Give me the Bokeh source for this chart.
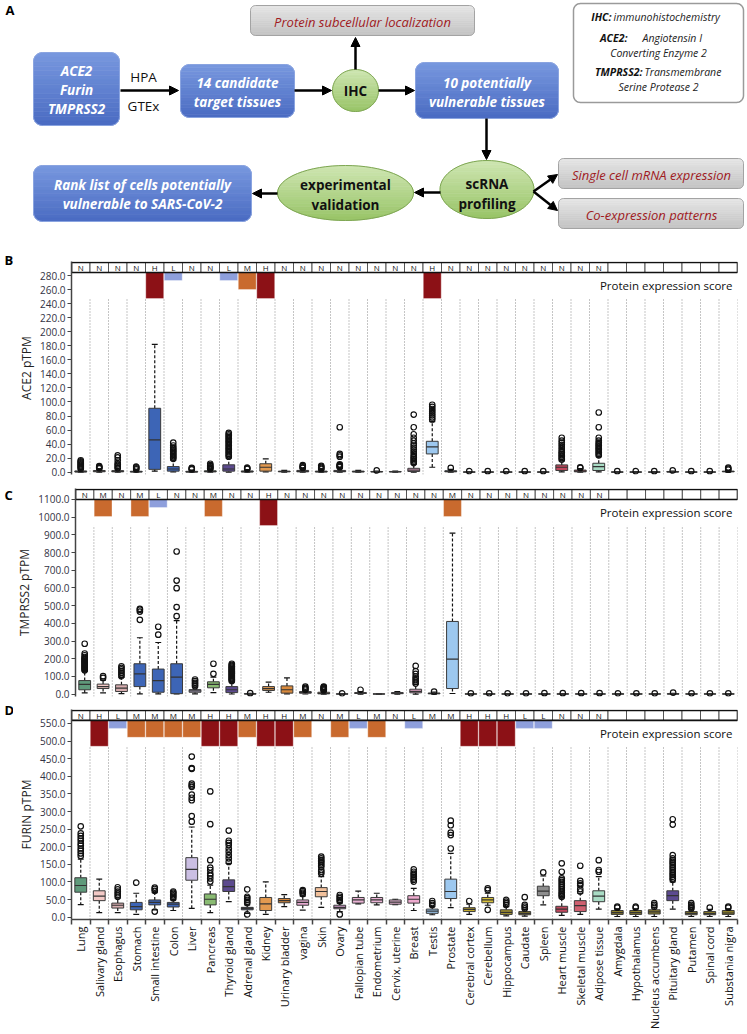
import math
from bokeh.plotting import figure
from bokeh.layouts import column, row
from bokeh.models import Range1d, FixedTicker, NumeralTickFormatter, Label, Arrow, NormalHead
from bokeh.core.properties import value
from bokeh.embed import file_html
from bokeh.resources import INLINE

FONT = "Open Sans"

# ---------------------------------------------------------------- data
tissues = ["Lung", "Salivary gland", "Esophagus", "Stomach", "Small intestine", "Colon", "Liver",
           "Pancreas", "Thyroid gland", "Adrenal gland", "Kidney", "Urinary bladder", "vagina", "Skin",
           "Ovary", "Fallopian tube", "Endometrium", "Cervix, uterine", "Breast", "Testis", "Prostate",
           "Cerebral cortex", "Cerebellum", "Hippocampus", "Caudate", "Spleen", "Heart muscle",
           "Skeletal muscle", "Adipose tissue", "Amygdala", "Hypothalamus", "Nucleus accumbens",
           "Pituitary gland", "Putamen", "Spinal cord", "Substania nigra"]

tissue_colors = ["#5f9a7b", "#f3c9c6", "#d8aeb0", "#3d65b6", "#3d65b6", "#3d65b6", "#cbbfe3",
                 "#89bb72", "#5c4a8e", "#2d3f6e", "#e39a50", "#d98a3d", "#e6aad0", "#f1c09b",
                 "#d8a0d2", "#e9b2d4", "#e9b2d4", "#e7b4d4", "#eeabcf", "#9dc8ef", "#9dc8ef",
                 "#c4ab2c", "#d8c13c", "#a8962c", "#8c7e2a", "#8e8e8e", "#c2485e",
                 "#cf5f6f", "#a9dcc5", "#8c7e2a", "#8c7e2a", "#8c7e2a",
                 "#5c4a90", "#8c7e2a", "#8c7e2a", "#8c7e2a"]

# ACE2 (panel B)
ace2_ticks = [0, 20, 40, 60, 80, 100, 120, 140, 160, 180, 200, 220, 240, 260, 280]
ace2_lo = [0, 0, 0, 0, 1.5, 0.3, 0, 0, 0.2, 0, 0.5, 0, 0, 0, 0, 0, 0, 0, 0, 7, 0,
           0, 0, 0, 0, 0, 0.5, 0, 0.5, 0, 0, 0, 0, 0, 0, 0]
ace2_q1 = [0.3, 0.6, 0.5, 0.2, 4, 1.5, 0.2, 0.4, 1.5, 0.3, 1.5, 0.5, 0.5, 0.3, 0.6, 0.4, 0.3, 0.3, 1, 26, 0.5,
           0.1, 0.1, 0.1, 0.1, 0.1, 2.4, 0.5, 2.4, 0.1, 0.1, 0.1, 0.2, 0.1, 0.1, 0.5]
ace2_med = [0.8, 1.3, 1.2, 0.6, 46, 4.5, 0.5, 1, 4.5, 0.8, 7, 1, 1.2, 0.7, 1.2, 0.8, 0.6, 0.6, 3, 36, 1.2,
            0.2, 0.2, 0.2, 0.2, 0.2, 7, 1.5, 8, 0.2, 0.2, 0.2, 0.5, 0.2, 0.2, 1]
ace2_q3 = [1.8, 2.4, 2.2, 1.3, 91, 8, 1.2, 2, 10.5, 1.8, 12, 1.5, 2.5, 1.5, 2.5, 1.5, 1, 1, 5.5, 44, 2,
           0.4, 0.4, 0.4, 0.4, 0.4, 10.4, 3, 12.7, 0.4, 0.4, 0.4, 1, 0.4, 0.4, 1.5]
ace2_hi = [4, 4.5, 4.5, 3, 182, 17, 3, 4, 20, 3.5, 19, 2.5, 5, 3.5, 6, 2.5, 1.5, 1.5, 11, 72, 4,
           0.8, 0.8, 0.8, 0.8, 0.8, 16, 5, 22, 0.8, 0.8, 0.8, 1.5, 0.8, 0.8, 2.5]
ace2_out = [[5, 6.5, 8, 9.5, 11, 12.5, 14, 15.5, 17], [5.5, 6.5, 7.5, 8.5],
            [5.5, 7, 9, 11, 13, 17, 21, 24], [4, 5.5, 7, 8], [],
            [19, 21, 23, 25, 27, 29, 31, 33, 35, 38, 42], [4, 5, 6], [5, 6, 7, 8.5, 10, 12],
            [22, 24, 26, 28, 30, 32, 34, 36, 38, 40, 42, 44, 46, 48, 50, 52, 54, 56],
            [4.5, 5.5, 6.5], [], [], [6, 7, 8.5, 10], [4.5, 6, 7.5, 9],
            [7, 8, 9, 10, 11, 22, 24, 26, 64], [], [2.5], [],
            [13, 15, 17, 19, 21, 23, 26, 29, 32, 35, 38, 41, 45, 49, 54, 64, 82],
            [75, 78, 81, 84, 87, 90, 93, 96], [6],
            [1.5], [1.5], [1.5], [1.5], [1.5],
            [18, 20, 22, 24, 26, 28, 30, 33, 36, 39, 42, 45, 49], [6, 7],
            [24, 26, 28, 30, 32, 34, 36, 38, 40, 42, 45, 49, 64, 85],
            [1.5], [1.5], [1.5], [2.5], [1.5], [1.5], [3.5, 5, 6.5]]
ace2_ihc = ["N", "N", "N", "N", "H", "L", "N", "N", "L", "M", "H", "N", "N", "N", "N", "N", "N", "N",
            "N", "H", "N", "N", "N", "N", "N", "N", "N", "N", "N", "", "", "", "", "", "", ""]

# TMPRSS2 (panel C)
tmp_ticks = [0, 100, 200, 300, 400, 500, 600, 700, 800, 900, 1000, 1100]
tmp_lo = [8, 8, 3, 2, 2, 2, 2, 9, 1, 0, 11, 2, 1, 0, 0, 0, 0, 0, 0, 0, 4,
          0, 0, 0, 0, 0, 0, 0, 0, 0, 0, 0, 0, 0, 0, 0]
tmp_q1 = [25, 32, 15, 43, 11, 3, 11, 36, 9, 1, 21, 6, 6, 2, 0.5, 4, 0.5, 3, 8, 2, 32,
          0.5, 0.5, 0.5, 0.5, 0.5, 0.5, 0.5, 0.5, 0.5, 0.5, 0.5, 0.5, 0.5, 0.5, 0.5]
tmp_med = [55, 43, 34, 115, 77, 96, 19, 55, 25, 2, 32, 25, 9, 5, 1, 6, 1, 6, 16, 4, 198,
           1, 1, 1, 1, 1, 1, 1, 1, 1, 1, 1, 1, 1, 1, 1]
tmp_q3 = [77, 57, 53, 172, 142, 172, 26, 70, 43, 3, 43, 47, 15, 11, 2, 9, 2, 9, 28, 7, 411,
          2, 2, 2, 2, 2, 2, 2, 2, 2, 2, 2, 3, 2, 2, 2]
tmp_hi = [130, 80, 95, 319, 292, 416, 40, 96, 70, 5, 68, 92, 20, 18, 3, 15, 3, 14, 55, 12, 910,
          3, 3, 3, 3, 3, 3, 3, 3, 3, 3, 3, 5, 3, 3, 3]
tmp_out = [[135, 140, 145, 150, 155, 160, 165, 170, 175, 180, 185, 190, 195, 200, 205, 210, 220, 230, 285],
           [92, 102], [102, 111, 121, 130, 140, 149, 158], [420, 467, 477, 482], [336, 381],
           [441, 492, 599, 642, 806], [45, 55, 64, 74, 83], [115, 172],
           [75, 80, 85, 90, 95, 100, 105, 110, 115, 120, 125, 130, 135, 140, 145, 150, 155, 160, 166, 172],
           [6], [], [], [25, 30, 36, 43], [21, 25, 28, 32, 36, 40, 43], [5], [25], [], [],
           [60, 70, 80, 90, 100, 115, 130, 160], [15], [],
           [5], [5], [5], [5], [6], [6], [6], [6], [5], [5], [5], [9], [5], [5], [5]]
tmp_ihc = ["N", "M", "N", "M", "L", "N", "N", "M", "N", "N", "H", "N", "N", "N", "N", "N", "N", "N",
           "N", "N", "M", "N", "N", "N", "N", "N", "N", "N", "N", "", "", "", "", "", "", ""]

# FURIN (panel D)
fur_ticks = [0, 50, 100, 150, 200, 250, 300, 350, 400, 450, 500, 550]
fur_lo = [36, 13, 13, 8, 21, 19, 25, 13, 44, 11, 8, 30, 20, 28, 16, 38, 35, 36, 19, 7, 27,
          8, 34, 4, 3, 35, 5, 8, 23, 2, 2, 2, 23, 2, 2, 2]
fur_q1 = [71, 47, 26, 21, 35, 29, 105, 35, 73, 21, 19, 41, 34, 58, 24, 40, 41, 37, 40, 11, 53,
          16, 41, 8, 7, 61, 14, 16, 44, 8, 8, 9, 47, 7, 7, 8]
fur_med = [90, 60, 34, 30, 42, 37, 136, 51, 87, 25, 38, 47, 42, 73, 28, 49, 49, 43, 51, 17, 73,
           22, 49, 14, 11, 74, 23, 33, 60, 13, 13, 15, 61, 11, 10, 12]
fur_q3 = [112, 75, 40, 42, 49, 42, 169, 66, 106, 28, 56, 53, 49, 84, 34, 56, 56, 49, 61, 23, 108,
          27, 56, 21, 16, 88, 31, 47, 75, 19, 19, 21, 75, 16, 16, 19]
fur_hi = [165, 108, 54, 68, 70, 49, 256, 91, 153, 35, 100, 64, 60, 115, 40, 74, 68, 51, 82, 30, 181,
          37, 68, 30, 22, 117, 55, 68, 115, 24, 24, 27, 100, 22, 22, 24]
fur_out = [[174, 181, 188, 195, 203, 209, 217, 224, 231, 238, 258], [],
           [58, 63, 68, 73, 79, 85], [98], [16, 75, 80, 84], [54, 58, 62, 66, 70, 73],
           [271, 287, 332, 339, 348, 370, 374, 379, 421, 423, 456],
           [101, 110, 118, 124, 134, 141, 162, 264, 357],
           [157, 167, 176, 186, 195, 205, 211, 217, 246],
           [8, 40, 44, 49, 54, 58, 79], [], [], [66, 70, 74, 77],
           [124, 129, 134, 143, 148, 153, 158, 162, 167, 172], [8, 45, 49, 54, 58, 63],
           [], [], [], [101, 106, 110, 115, 120, 124, 129, 136], [35, 40, 46],
           [195, 233, 240, 261, 274], [46], [21, 77, 82], [35, 40, 44, 49], [25, 30, 35, 57],
           [127], [58, 62, 66, 70, 75, 80, 85, 90, 95, 100, 105, 110, 129, 153],
           [73, 80, 91, 96, 103, 146], [129, 134, 162], [27, 30], [27, 30], [30, 35, 40],
           [106, 110, 115, 120, 124, 129, 134, 139, 143, 148, 153, 157, 162, 167, 176, 263, 278],
           [25, 28, 31, 35, 40], [27], [27, 30]]
fur_ihc = ["N", "H", "L", "M", "M", "M", "M", "H", "H", "M", "H", "H", "M", "N", "M", "L", "M", "N",
           "L", "M", "M", "H", "H", "H", "L", "L", "N", "N", "N", "", "", "", "", "", "", ""]
fur_bars = ["N", "H", "L", "M", "M", "M", "M", "H", "H", "M", "H", "H", "M", "N", "M", "L", "M", "N",
            "L", "", "", "H", "H", "H", "L", "L", "N", "N", "N", "", "", "", "", "", "", ""]

panel_letters = ["B", "C", "D"]

# ---------------------------------------------------------------- styles / layout
score_color = {"H": "#8c1116", "M": "#c96a2e", "L": "#8e9fdc"}
score_px = {"H": 26, "M": 17, "L": 8}
CELL_PX = 18.5
TOTAL_W = 745
LETTER_W = 13
PANEL_W = TOTAL_W - LETTER_W
LEFT_B = 71 - LETTER_W
RIGHT_B = PANEL_W - LEFT_B - 666


def panel(ylabel, lo, q1, med, q3, hi, outl, ihc, bars, ticks, y_start, y_end, hdr_bot,
          top_b, frame_h, bot_b, show_x):
    n = len(tissues)
    xs = list(range(n))
    p = figure(width=PANEL_W, height=top_b + frame_h + bot_b,
               x_range=Range1d(-0.5, n - 0.5), y_range=Range1d(y_start, y_end),
               output_backend="svg", toolbar_location=None,
               x_axis_location="below" if show_x else None,
               min_border_left=LEFT_B, min_border_right=RIGHT_B, min_border_top=top_b,
               min_border_bottom=bot_b)
    p.frame_align = False
    p.grid.visible = False
    p.outline_line_color = None
    ppu = frame_h / (y_end - y_start)

    bounds = [k + 0.5 for k in range(n)]
    dot_top = hdr_bot - score_px["H"] / ppu
    p.segment(x0=bounds, y0=[y_start] * n, x1=bounds, y1=[dot_top] * n,
              line_color="#8a8a8a", line_width=1, line_dash="1 2")

    p.segment(x0=xs, y0=q3, x1=xs, y1=hi, line_color="#111111", line_width=1.2, line_dash="3 2")
    p.segment(x0=xs, y0=q1, x1=xs, y1=lo, line_color="#111111", line_width=1.2, line_dash="3 2")
    cw = 0.16
    p.segment(x0=[x - cw for x in xs], y0=hi, x1=[x + cw for x in xs], y1=hi,
              line_color="#111111", line_width=1.2)
    p.segment(x0=[x - cw for x in xs], y0=lo, x1=[x + cw for x in xs], y1=lo,
              line_color="#111111", line_width=1.2)
    bw = 0.64
    p.vbar(x=xs, width=bw, bottom=q1, top=q3, fill_color=tissue_colors,
           line_color="#3a3a3a", line_width=1)
    p.segment(x0=[x - bw / 2 for x in xs], y0=med, x1=[x + bw / 2 for x in xs], y1=med,
              line_color="#333333", line_width=1.2)
    ox = [i for i, o in enumerate(outl) for _ in o]
    oy = [v for o in outl for v in o]
    p.scatter(ox, oy, marker="circle", size=5.5, fill_color="white", fill_alpha=0,
              line_color="#111111", line_width=1.2)

    bx, btop, bbot, bcol = [], [], [], []
    for i, s in enumerate(bars):
        if s in score_px:
            bx.append(i)
            btop.append(hdr_bot)
            bbot.append(hdr_bot - score_px[s] / ppu)
            bcol.append(score_color[s])
    p.vbar(x=bx, width=0.97, top=btop, bottom=bbot, fill_color=bcol,
           line_color="white", line_alpha=0.35, line_width=1)

    hdr_top = y_end - 1.0 / ppu
    hy = (hdr_bot + hdr_top) / 2
    hh = hdr_top - hdr_bot
    p.rect(x=xs, y=[hy] * n, width=1, height=hh, fill_color="white",
           line_color="#555555", line_width=1)
    p.rect(x=[(n - 1) / 2], y=[hy], width=n, height=hh, fill_color=None,
           line_color="#111111", line_width=1.6)
    p.text(x=xs, y=[hy] * n, text=ihc, text_font=value(FONT), text_font_size="8px",
           text_align="center", text_baseline="middle", text_color="#111111")

    p.add_layout(Label(x=n - 0.5 - 5 / CELL_PX, y=hdr_bot - 13 / ppu, text="Protein expression score",
                       text_align="right", text_baseline="middle", text_font=FONT,
                       text_font_size="11.5px", text_color="#111111"))

    ya = p.yaxis[0]
    ya.ticker = FixedTicker(ticks=ticks)
    ya.formatter = NumeralTickFormatter(format="0.0")
    ya.axis_label = ylabel
    ya.axis_label_text_font = FONT
    ya.axis_label_text_font_size = "12px"
    ya.axis_label_text_font_style = "normal"
    ya.axis_label_text_color = "#222222"
    ya.axis_label_standoff = 2
    ya.major_label_text_font = FONT
    ya.major_label_text_font_size = "10px"
    ya.major_label_text_color = "#333344"
    ya.major_label_standoff = 2
    ya.major_tick_out = 4
    ya.major_tick_in = 0
    ya.minor_tick_out = 0
    ya.minor_tick_in = 0
    ya.axis_line_width = 1.5
    ya.axis_line_color = "#444444"
    ya.major_tick_line_color = "#444444"

    if show_x:
        xa = p.xaxis[0]
        xa.ticker = FixedTicker(ticks=xs, minor_ticks=[-0.5] + bounds)
        xa.major_label_overrides = {i: t for i, t in enumerate(tissues)}
        xa.major_label_orientation = math.pi / 2
        xa.major_label_text_font = FONT
        xa.major_label_text_font_size = "11px"
        xa.major_label_text_color = "#111111"
        xa.major_label_standoff = 2
        xa.major_tick_out = 0
        xa.major_tick_in = 0
        xa.minor_tick_out = 5
        xa.minor_tick_in = 0
        xa.minor_tick_line_color = "#444444"
        xa.minor_tick_line_width = 1.5
        xa.axis_line_width = 1.5
        xa.axis_line_color = "#444444"
    return p


# ---------------------------------------------------------------- panel A (flow chart)
def rrect_pts(x0, y0, x1, y1, r, n=8):
    pts = []
    corners = [(x1 - r, y0 + r, -90, 0), (x1 - r, y1 - r, 0, 90),
               (x0 + r, y1 - r, 90, 180), (x0 + r, y0 + r, 180, 270)]
    for cx, cy, a0, a1 in corners:
        for k in range(n + 1):
            a = math.radians(a0 + (a1 - a0) * k / n)
            pts.append((cx + r * math.cos(a), cy + r * math.sin(a)))
    return pts


def ellipse_pts(cx, cy, rx, ry, n=64):
    return [(cx + rx * math.cos(2 * math.pi * k / n), cy + ry * math.sin(2 * math.pi * k / n))
            for k in range(n)]


def _cut(a, b, y):
    t = (y - a[1]) / (b[1] - a[1])
    return (a[0] + t * (b[0] - a[0]), y)


def clip(poly, y, keep_greater):
    out = []
    for i in range(len(poly)):
        cur, prev = poly[i], poly[i - 1]
        cin = cur[1] >= y if keep_greater else cur[1] <= y
        pin = prev[1] >= y if keep_greater else prev[1] <= y
        if cin:
            if not pin:
                out.append(_cut(prev, cur, y))
            out.append(cur)
        elif pin:
            out.append(_cut(prev, cur, y))
    return out


def lerp_color(c1, c2, t):
    a = [int(c1[i:i + 2], 16) for i in (1, 3, 5)]
    b = [int(c2[i:i + 2], 16) for i in (1, 3, 5)]
    return "#%02x%02x%02x" % tuple(int(round(a[k] + (b[k] - a[k]) * t)) for k in range(3))


def gradient_shape(p, pts, c_top, c_bot, edge, lw=1.0, bands=16):
    ys = [q[1] for q in pts]
    top, bot = min(ys), max(ys)
    xl, yl, cols = [], [], []
    for i in range(bands):
        ya = top + (bot - top) * i / bands
        yb = top + (bot - top) * (i + 1) / bands
        poly = clip(clip(pts, ya, True), yb, False)
        if len(poly) < 3:
            continue
        xl.append([q[0] for q in poly])
        yl.append([q[1] for q in poly])
        cols.append(lerp_color(c_top, c_bot, (i + 0.5) / bands))
    p.patches(xl, yl, fill_color=cols, line_color=cols, line_width=0.6)
    if edge:
        p.patch([q[0] for q in pts], [q[1] for q in pts], fill_color=None,
                line_color=edge, line_width=lw)


pa = figure(width=TOTAL_W, height=240, x_range=Range1d(0, TOTAL_W), y_range=Range1d(240, 0),
            output_backend="svg", toolbar_location=None, x_axis_location=None,
            y_axis_location=None, min_border=0)
pa.frame_align = False
pa.grid.visible = False
pa.outline_line_color = None

BLUE_T, BLUE_B, BLUE_E = "#7898df", "#4a6bc2", "#8aa4e0"
GREEN_T, GREEN_B, GREEN_E = "#cfe6b2", "#98c467", "#7ea653"
GRAY_T, GRAY_B, GRAY_E = "#e6e6e6", "#c3c3c3", "#a3a3a3"
RED_TXT = "#a01a1e"

for (x0, y0, x1, y1) in [(33, 52, 119, 125), (180, 64, 294, 117), (415, 62, 558, 118), (33, 165, 251, 221)]:
    gradient_shape(pa, rrect_pts(x0, y0, x1, y1, 9), BLUE_T, BLUE_B, BLUE_E, 1.0)
for (x0, y0, x1, y1) in [(250, 5, 474, 35), (558, 158, 743, 188), (558, 198, 743, 228)]:
    gradient_shape(pa, rrect_pts(x0, y0, x1, y1, 5), GRAY_T, GRAY_B, GRAY_E, 1.0)
lg = rrect_pts(573, 3, 743, 102, 7)
pa.patch([q[0] for q in lg], [q[1] for q in lg], fill_color="white", line_color="#9a9a9a", line_width=1.5)
for (cx, cy, rx, ry) in [(355, 90, 23, 21), (486.5, 189, 47, 29), (345, 192.5, 68, 27.5)]:
    gradient_shape(pa, ellipse_pts(cx, cy, rx, ry), GREEN_T, GREEN_B, GREEN_E, 1.0)

for (xa0, ya0, xa1, ya1) in [(120, 90, 178, 90), (294, 90, 331, 90), (355, 69, 355, 37),
                             (378, 90, 414, 90), (486, 118, 486, 159), (440, 192, 414, 192),
                             (277, 193, 252, 193), (533, 191, 557, 174), (533, 191, 557, 210)]:
    pa.add_layout(Arrow(end=NormalHead(size=9, fill_color="black", line_color="black"),
                        x_start=xa0, y_start=ya0, x_end=xa1, y_end=ya1,
                        line_width=2.5, line_color="black"))

pa.text(x=[76, 76, 76, 237, 237, 486.5, 486.5, 142, 142], y=[70, 89, 108, 82, 101, 82, 101, 184, 203],
        text=["ACE2", "Furin", "TMPRSS2", "14 candidate", "target tissues", "10 potentially",
              "vulnerable tissues", "Rank list of cells potentially", "vulnerable to SARS-CoV-2"],
        text_font=value(FONT), text_font_size="13.5px", text_font_style="bold italic",
        text_color="white", text_align="center", text_baseline="middle")
pa.text(x=[355, 486.5, 486.5, 345, 345], y=[90, 183, 203, 184, 204],
        text=["IHC", "scRNA", "profiling", "experimental", "validation"],
        text_font=value(FONT), text_font_size="13.5px", text_font_style="bold",
        text_color="#111111", text_align="center", text_baseline="middle")
pa.text(x=[143, 143], y=[76, 105], text=["HPA", "GTEx"], text_font=value(FONT),
        text_font_size="13.5px", text_color="#111111", text_align="center", text_baseline="middle")
pa.text(x=[362, 651, 651], y=[21, 174, 214],
        text=["Protein subcellular localization", "Single cell mRNA expression", "Co-expression patterns"],
        text_font=value(FONT), text_font_size="13px", text_font_style="italic",
        text_color=RED_TXT, text_align="center", text_baseline="middle")
pa.text(x=[611, 627, 642], y=[16, 37, 71], text=["IHC:", "ACE2:", "TMPRSS2:"],
        text_font=value(FONT), text_font_size="10.5px", text_font_style="bold italic",
        text_color="#111111", text_align="right", text_baseline="middle")
pa.text(x=[613, 642, 644], y=[16, 37, 71], text=["immunohistochemistry", "Angiotensin I", "Transmembrane"],
        text_font=value(FONT), text_font_size="10.5px", text_font_style="italic",
        text_color="#222222", text_align="left", text_baseline="middle")
pa.text(x=[658, 658], y=[52, 86], text=["Converting Enzyme 2", "Serine Protease 2"],
        text_font=value(FONT), text_font_size="10.5px", text_font_style="italic",
        text_color="#222222", text_align="center", text_baseline="middle")
pa.text(x=[5], y=[9], text=["A"], text_font=value(FONT), text_font_size="13px",
        text_font_style="bold", text_color="black", text_align="left", text_baseline="middle")

# ---------------------------------------------------------------- panels B, C, D
pb = panel("ACE2 pTPM", ace2_lo, ace2_q1, ace2_med, ace2_q3, ace2_hi, ace2_out, ace2_ihc, ace2_ihc,
           ace2_ticks, -3.3, 300.0, 284.3, 21, 213, 4, False)
pc = panel("TMPRSS2 pTPM", tmp_lo, tmp_q1, tmp_med, tmp_q3, tmp_hi, tmp_out, tmp_ihc, tmp_ihc,
           tmp_ticks, -13.0, 1162.0, 1100.0, 10, 208, 4, False)
pd = panel("FURIN pTPM", fur_lo, fur_q1, fur_med, fur_q3, fur_hi, fur_out, fur_ihc, fur_bars,
           fur_ticks, -6.5, 589.5, 558.5, 9, 211, 112, True)

# panel letters B, C, D in a narrow strip left of the panels (page-pixel coordinates)
pl = figure(width=LETTER_W, height=238 + 222 + 332, x_range=Range1d(0, LETTER_W),
            y_range=Range1d(1032, 240), output_backend="svg", toolbar_location=None,
            x_axis_location=None, y_axis_location=None, min_border=0)
pl.frame_align = False
pl.grid.visible = False
pl.outline_line_color = None
pl.text(x=[4, 4, 4], y=[259, 494, 709], text=panel_letters, text_font=value(FONT),
        text_font_size="13px", text_font_style="bold", text_color="black",
        text_align="left", text_baseline="middle")

layout = column(pa, row(pl, column(pb, pc, pd, spacing=0), spacing=0), spacing=0)
open("out.html", "w").write(file_html(layout, INLINE))
